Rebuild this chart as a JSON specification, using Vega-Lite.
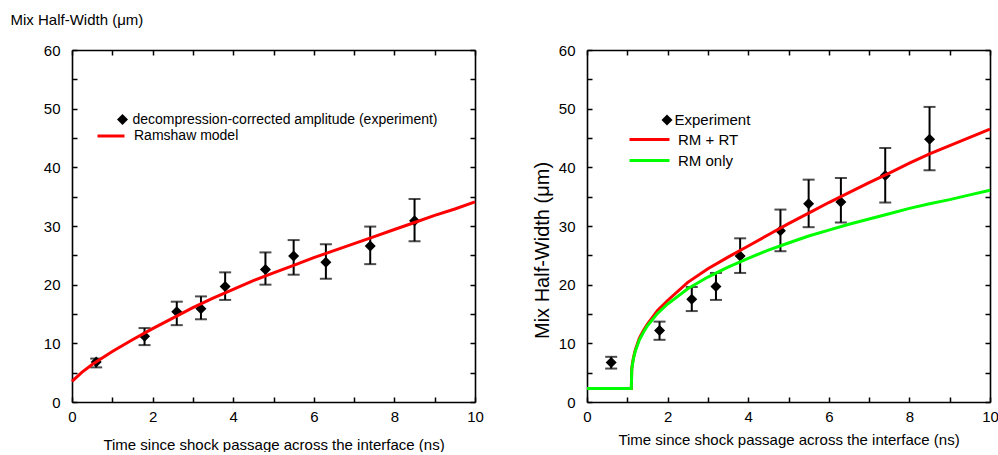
{
  "$schema": "https://vega.github.io/schema/vega-lite/v6.json",
  "background": "white",
  "padding": {"left": 10, "top": 12, "right": 0, "bottom": 0},
  "config": {
    "font": "Liberation Sans",
    "view": {"stroke": null},
    "axis": {
      "grid": false,
      "domainColor": "black",
      "domainWidth": 1.6,
      "tickColor": "black",
      "tickWidth": 1.5,
      "tickSize": -5,
      "labelColor": "black",
      "labelFontSize": 15,
      "labelPadding": 17,
      "labelFlush": false,
      "titleColor": "black",
      "titleFontSize": 15,
      "titleFontWeight": "normal"
    },
    "legend": {
      "labelFontSize": 15,
      "labelColor": "black",
      "labelLimit": 0,
      "padding": 0,
      "title": null
    }
  },
  "datasets": {
    "expL": [
      {"t": 0.6, "y": 6.8, "lo": 5.9, "hi": 7.4, "series": "decompression-corrected amplitude (experiment)"},
      {"t": 1.8, "y": 11.2, "lo": 9.7, "hi": 12.6, "series": "decompression-corrected amplitude (experiment)"},
      {"t": 2.6, "y": 15.4, "lo": 13.1, "hi": 17.1, "series": "decompression-corrected amplitude (experiment)"},
      {"t": 3.2, "y": 15.9, "lo": 14.1, "hi": 18.0, "series": "decompression-corrected amplitude (experiment)"},
      {"t": 3.8, "y": 19.7, "lo": 17.4, "hi": 22.1, "series": "decompression-corrected amplitude (experiment)"},
      {"t": 4.8, "y": 22.6, "lo": 20.0, "hi": 25.5, "series": "decompression-corrected amplitude (experiment)"},
      {"t": 5.5, "y": 24.9, "lo": 21.7, "hi": 27.6, "series": "decompression-corrected amplitude (experiment)"},
      {"t": 6.3, "y": 23.8, "lo": 21.0, "hi": 26.9, "series": "decompression-corrected amplitude (experiment)"},
      {"t": 7.4, "y": 26.6, "lo": 23.5, "hi": 29.9, "series": "decompression-corrected amplitude (experiment)"},
      {"t": 8.5, "y": 30.9, "lo": 27.4, "hi": 34.6, "series": "decompression-corrected amplitude (experiment)"}
    ],
    "curveL": [
      {"t": 0, "v": 3.5, "series": "Ramshaw model"},
      {"t": 0.25, "v": 5.1, "series": "Ramshaw model"},
      {"t": 0.5, "v": 6.4, "series": "Ramshaw model"},
      {"t": 1, "v": 8.6, "series": "Ramshaw model"},
      {"t": 1.5, "v": 10.6, "series": "Ramshaw model"},
      {"t": 2, "v": 12.5, "series": "Ramshaw model"},
      {"t": 2.5, "v": 14.3, "series": "Ramshaw model"},
      {"t": 3, "v": 16.1, "series": "Ramshaw model"},
      {"t": 3.5, "v": 17.7, "series": "Ramshaw model"},
      {"t": 4, "v": 19.2, "series": "Ramshaw model"},
      {"t": 4.5, "v": 20.7, "series": "Ramshaw model"},
      {"t": 5, "v": 22.0, "series": "Ramshaw model"},
      {"t": 5.5, "v": 23.3, "series": "Ramshaw model"},
      {"t": 6, "v": 24.6, "series": "Ramshaw model"},
      {"t": 6.5, "v": 25.8, "series": "Ramshaw model"},
      {"t": 7, "v": 27.0, "series": "Ramshaw model"},
      {"t": 7.5, "v": 28.2, "series": "Ramshaw model"},
      {"t": 8, "v": 29.4, "series": "Ramshaw model"},
      {"t": 8.5, "v": 30.6, "series": "Ramshaw model"},
      {"t": 9, "v": 31.8, "series": "Ramshaw model"},
      {"t": 9.5, "v": 32.9, "series": "Ramshaw model"},
      {"t": 10, "v": 34.1, "series": "Ramshaw model"}
    ],
    "expR": [
      {"t": 0.6, "y": 6.75, "lo": 5.7, "hi": 7.7, "series": "Experiment"},
      {"t": 1.8, "y": 12.2, "lo": 10.6, "hi": 13.7, "series": "Experiment"},
      {"t": 2.6, "y": 17.5, "lo": 15.5, "hi": 19.6, "series": "Experiment"},
      {"t": 3.2, "y": 19.7, "lo": 17.4, "hi": 22.0, "series": "Experiment"},
      {"t": 3.8, "y": 24.9, "lo": 22.0, "hi": 27.9, "series": "Experiment"},
      {"t": 4.8, "y": 29.2, "lo": 25.7, "hi": 32.8, "series": "Experiment"},
      {"t": 5.5, "y": 33.8, "lo": 29.8, "hi": 37.9, "series": "Experiment"},
      {"t": 6.3, "y": 34.1, "lo": 30.6, "hi": 38.2, "series": "Experiment"},
      {"t": 7.4, "y": 38.6, "lo": 34.0, "hi": 43.3, "series": "Experiment"},
      {"t": 8.5, "y": 44.8, "lo": 39.5, "hi": 50.3, "series": "Experiment"}
    ],
    "curveR": [
      {"t": 0, "v": 2.3, "series": "RM + RT"},
      {"t": 1.1, "v": 2.3, "series": "RM + RT"},
      {"t": 1.11, "v": 5.6, "series": "RM + RT"},
      {"t": 1.13, "v": 6.7, "series": "RM + RT"},
      {"t": 1.16, "v": 7.8, "series": "RM + RT"},
      {"t": 1.2, "v": 8.9, "series": "RM + RT"},
      {"t": 1.3, "v": 10.9, "series": "RM + RT"},
      {"t": 1.4, "v": 12.2, "series": "RM + RT"},
      {"t": 1.5, "v": 13.3, "series": "RM + RT"},
      {"t": 1.75, "v": 15.6, "series": "RM + RT"},
      {"t": 2, "v": 17.3, "series": "RM + RT"},
      {"t": 2.5, "v": 20.4, "series": "RM + RT"},
      {"t": 3, "v": 22.7, "series": "RM + RT"},
      {"t": 3.5, "v": 24.7, "series": "RM + RT"},
      {"t": 4, "v": 26.6, "series": "RM + RT"},
      {"t": 4.5, "v": 28.5, "series": "RM + RT"},
      {"t": 5, "v": 30.4, "series": "RM + RT"},
      {"t": 5.5, "v": 32.2, "series": "RM + RT"},
      {"t": 6, "v": 34.0, "series": "RM + RT"},
      {"t": 6.5, "v": 35.7, "series": "RM + RT"},
      {"t": 7, "v": 37.4, "series": "RM + RT"},
      {"t": 7.5, "v": 39.0, "series": "RM + RT"},
      {"t": 8, "v": 40.7, "series": "RM + RT"},
      {"t": 8.5, "v": 42.3, "series": "RM + RT"},
      {"t": 9, "v": 43.7, "series": "RM + RT"},
      {"t": 9.5, "v": 45.1, "series": "RM + RT"},
      {"t": 10, "v": 46.5, "series": "RM + RT"},
      {"t": 0, "v": 2.3, "series": "RM only"},
      {"t": 1.1, "v": 2.3, "series": "RM only"},
      {"t": 1.11, "v": 5.5, "series": "RM only"},
      {"t": 1.13, "v": 6.5, "series": "RM only"},
      {"t": 1.16, "v": 7.6, "series": "RM only"},
      {"t": 1.2, "v": 8.7, "series": "RM only"},
      {"t": 1.3, "v": 10.6, "series": "RM only"},
      {"t": 1.4, "v": 11.9, "series": "RM only"},
      {"t": 1.5, "v": 13.0, "series": "RM only"},
      {"t": 1.75, "v": 15.1, "series": "RM only"},
      {"t": 2, "v": 16.7, "series": "RM only"},
      {"t": 2.5, "v": 19.3, "series": "RM only"},
      {"t": 3, "v": 21.3, "series": "RM only"},
      {"t": 3.5, "v": 23.0, "series": "RM only"},
      {"t": 4, "v": 24.5, "series": "RM only"},
      {"t": 4.5, "v": 25.9, "series": "RM only"},
      {"t": 5, "v": 27.1, "series": "RM only"},
      {"t": 5.5, "v": 28.3, "series": "RM only"},
      {"t": 6, "v": 29.3, "series": "RM only"},
      {"t": 6.5, "v": 30.3, "series": "RM only"},
      {"t": 7, "v": 31.2, "series": "RM only"},
      {"t": 7.5, "v": 32.1, "series": "RM only"},
      {"t": 8, "v": 33.0, "series": "RM only"},
      {"t": 8.5, "v": 33.8, "series": "RM only"},
      {"t": 9, "v": 34.5, "series": "RM only"},
      {"t": 9.5, "v": 35.3, "series": "RM only"},
      {"t": 10, "v": 36.1, "series": "RM only"}
    ]
  },
  "bounds": "flush",
  "spacing": 112,
  "resolve": {"scale": {"color": "independent", "shape": "independent"}},
  "hconcat": [
    {
      "width": 403,
      "height": 352,
      "resolve": {"axis": {"x": "independent", "y": "independent"}},
      "layer": [
        {
          "data": {"name": "expL"},
          "mark": {"type": "rule", "color": "black", "strokeWidth": 2},
          "encoding": {
            "x": {"field": "t", "type": "quantitative", "scale": {"domain": [0, 10], "nice": false},
              "axis": {"orient": "bottom", "values": [0,1,2,3,4,5,6,7,8,9,10], "labelExpr": "datum.value % 2 === 0 ? datum.label : ''", "labelPadding": 12,
                "title": "Time since shock passage across the interface (ns)", "titleY": 47, "titleBaseline": "alphabetic"}},
            "y": {"field": "lo", "type": "quantitative", "scale": {"domain": [0, 60], "nice": false},
              "axis": {"orient": "left", "values": [0,5,10,15,20,25,30,35,40,45,50,55,60], "labelExpr": "datum.value % 10 === 0 ? datum.label : ''",
                "title": "Mix Half-Width (μm)", "titleAngle": 0, "titleAlign": "left", "titleBaseline": "alphabetic", "titleX": -62, "titleY": -26}},
            "y2": {"field": "hi"}
          }
        },
        {
          "data": {"name": "expL"},
          "mark": {"type": "tick", "orient": "horizontal", "color": "black", "size": 12, "thickness": 2},
          "encoding": {
            "x": {"field": "t", "type": "quantitative", "scale": {"domain": [0, 10], "nice": false}, "axis": null},
            "y": {"field": "lo", "type": "quantitative", "scale": {"domain": [0, 60], "nice": false}, "axis": null}
          }
        },
        {
          "data": {"name": "expL"},
          "mark": {"type": "tick", "orient": "horizontal", "color": "black", "size": 12, "thickness": 2},
          "encoding": {
            "x": {"field": "t", "type": "quantitative", "scale": {"domain": [0, 10], "nice": false}, "axis": null},
            "y": {"field": "hi", "type": "quantitative", "scale": {"domain": [0, 60], "nice": false}, "axis": null}
          }
        },
        {
          "data": {"name": "expL"},
          "mark": {"type": "point", "filled": true, "color": "black", "size": 121, "opacity": 1},
          "encoding": {
            "x": {"field": "t", "type": "quantitative", "scale": {"domain": [0, 10], "nice": false}, "axis": null},
            "y": {"field": "y", "type": "quantitative", "scale": {"domain": [0, 60], "nice": false}, "axis": null},
            "shape": {"field": "series", "type": "nominal", "scale": {"range": ["diamond"]},
              "legend": {"orient": "none", "legendX": 43.5, "legendY": 62.5, "symbolSize": 121, "symbolFillColor": "black", "symbolStrokeWidth": 0, "labelOffset": 3, "labelFontSize": 14}}
          }
        },
        {
          "data": {"name": "curveL"},
          "mark": {"type": "line", "strokeWidth": 3},
          "encoding": {
            "x": {"field": "t", "type": "quantitative", "scale": {"domain": [0, 10], "nice": false},
              "axis": {"orient": "top", "values": [0,1,2,3,4,5,6,7,8,9,10], "labels": false, "title": null}},
            "y": {"field": "v", "type": "quantitative", "scale": {"domain": [0, 60], "nice": false},
              "axis": {"orient": "right", "values": [0,5,10,15,20,25,30,35,40,45,50,55,60], "labels": false, "title": null}},
            "color": {"field": "series", "type": "nominal", "scale": {"domain": ["Ramshaw model"], "range": ["#ff0000"]},
              "legend": {"orient": "none", "legendX": 24, "legendY": 71, "symbolType": "stroke", "symbolSize": 729, "symbolStrokeWidth": 3, "labelOffset": 8, "labelFontSize": 14}}
          }
        }
      ]
    },
    {
      "width": 403,
      "height": 352,
      "resolve": {"axis": {"x": "independent", "y": "independent"}},
      "layer": [
        {
          "data": {"name": "expR"},
          "mark": {"type": "rule", "color": "black", "strokeWidth": 2},
          "encoding": {
            "x": {"field": "t", "type": "quantitative", "scale": {"domain": [0, 10], "nice": false},
              "axis": {"orient": "bottom", "values": [0,1,2,3,4,5,6,7,8,9,10], "labelExpr": "datum.value % 2 === 0 ? datum.label : ''", "labelPadding": 12,
                "title": "Time since shock passage across the interface (ns)", "titleY": 42, "titleBaseline": "alphabetic"}},
            "y": {"field": "lo", "type": "quantitative", "scale": {"domain": [0, 60], "nice": false},
              "axis": {"orient": "left", "values": [0,5,10,15,20,25,30,35,40,45,50,55,60], "labelExpr": "datum.value % 10 === 0 ? datum.label : ''",
                "title": "Mix Half-Width (μm)", "titleFontSize": 20, "titleAngle": 270, "titleAlign": "center", "titleBaseline": "middle", "titleX": -45, "titleY": 200}},
            "y2": {"field": "hi"}
          }
        },
        {
          "data": {"name": "expR"},
          "mark": {"type": "tick", "orient": "horizontal", "color": "black", "size": 12, "thickness": 2},
          "encoding": {
            "x": {"field": "t", "type": "quantitative", "scale": {"domain": [0, 10], "nice": false}, "axis": null},
            "y": {"field": "lo", "type": "quantitative", "scale": {"domain": [0, 60], "nice": false}, "axis": null}
          }
        },
        {
          "data": {"name": "expR"},
          "mark": {"type": "tick", "orient": "horizontal", "color": "black", "size": 12, "thickness": 2},
          "encoding": {
            "x": {"field": "t", "type": "quantitative", "scale": {"domain": [0, 10], "nice": false}, "axis": null},
            "y": {"field": "hi", "type": "quantitative", "scale": {"domain": [0, 60], "nice": false}, "axis": null}
          }
        },
        {
          "data": {"name": "expR"},
          "mark": {"type": "point", "filled": true, "color": "black", "size": 121, "opacity": 1},
          "encoding": {
            "x": {"field": "t", "type": "quantitative", "scale": {"domain": [0, 10], "nice": false}, "axis": null},
            "y": {"field": "y", "type": "quantitative", "scale": {"domain": [0, 60], "nice": false}, "axis": null},
            "shape": {"field": "series", "type": "nominal", "scale": {"range": ["diamond"]},
              "legend": {"orient": "none", "legendX": 72.5, "legendY": 62.5, "symbolSize": 121, "symbolFillColor": "black", "symbolStrokeWidth": 0, "labelOffset": 0}}
          }
        },
        {
          "data": {"name": "curveR"},
          "mark": {"type": "line", "strokeWidth": 3},
          "encoding": {
            "x": {"field": "t", "type": "quantitative", "scale": {"domain": [0, 10], "nice": false},
              "axis": {"orient": "top", "values": [0,1,2,3,4,5,6,7,8,9,10], "labels": false, "title": null}},
            "y": {"field": "v", "type": "quantitative", "scale": {"domain": [0, 60], "nice": false},
              "axis": {"orient": "right", "values": [0,5,10,15,20,25,30,35,40,45,50,55,60], "labels": false, "title": null}},
            "color": {"field": "series", "type": "nominal", "scale": {"domain": ["RM + RT", "RM only"], "range": ["#ff0000", "#00ff00"]},
              "legend": {"orient": "none", "legendX": 70, "legendY": 82, "symbolType": "M-7,0H1", "symbolSize": 100, "symbolStrokeWidth": 3, "labelOffset": 6, "rowPadding": 5}}
          }
        }
      ]
    }
  ]
}
